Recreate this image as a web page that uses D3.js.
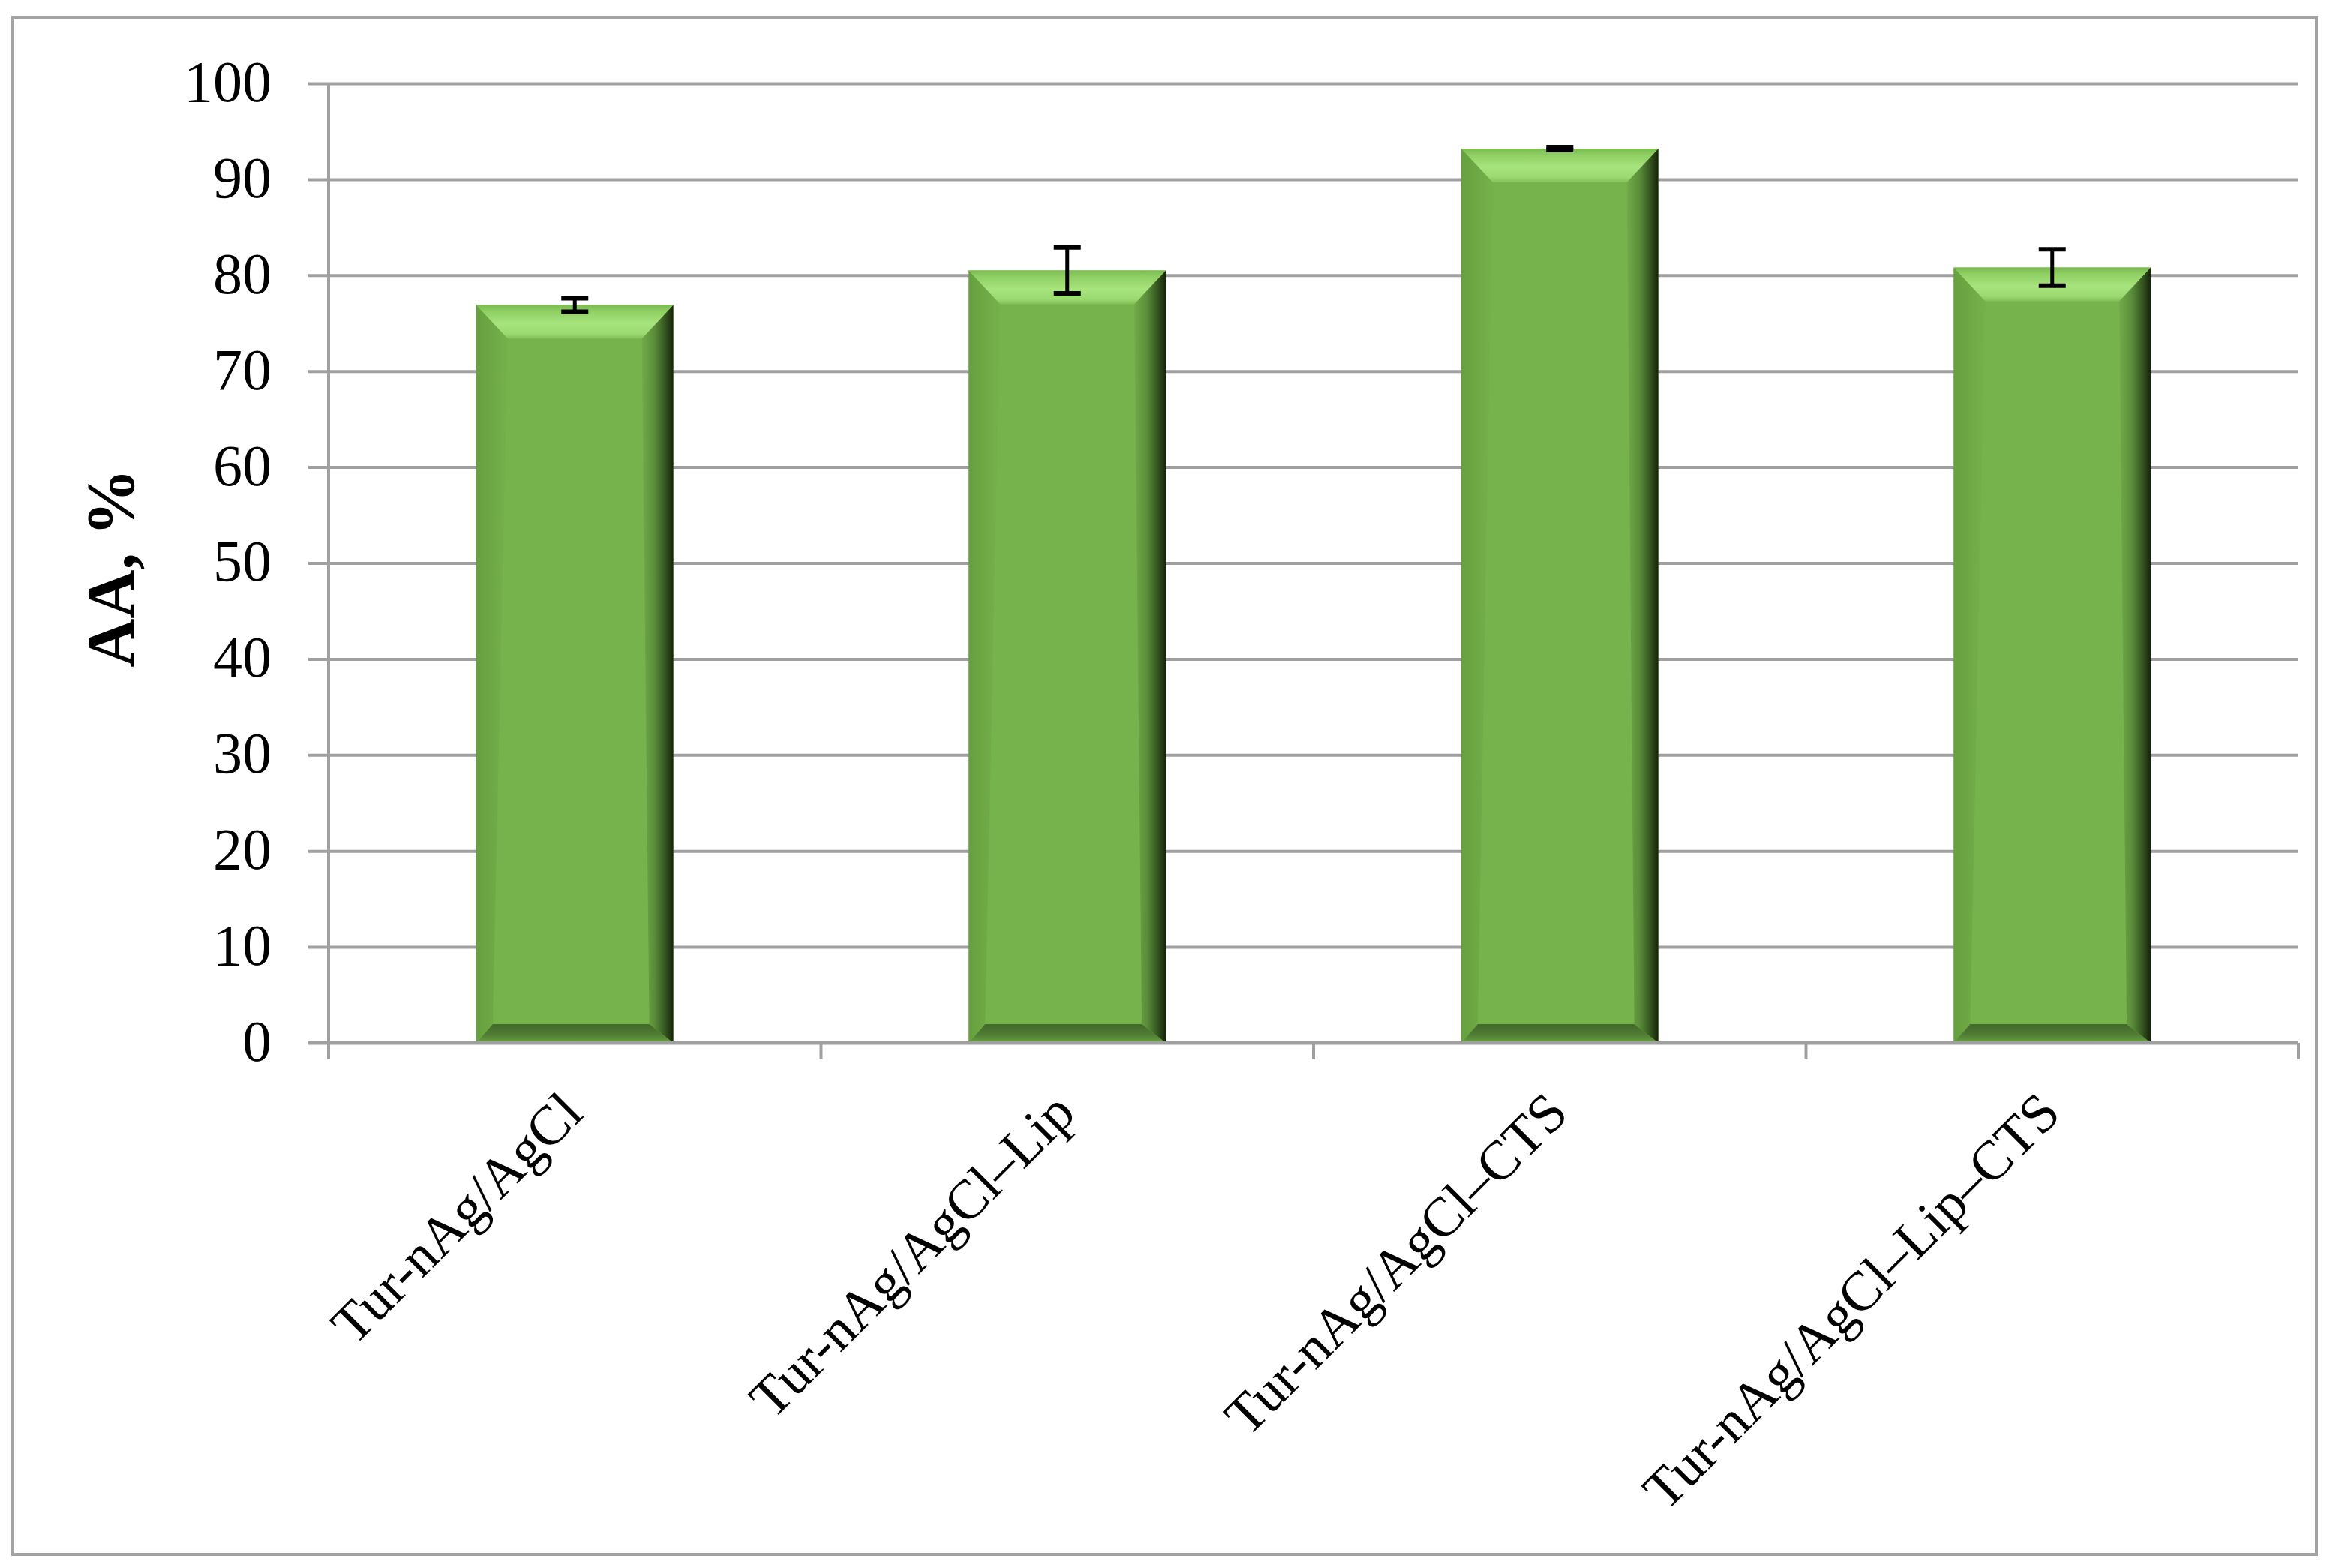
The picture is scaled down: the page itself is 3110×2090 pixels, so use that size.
<!DOCTYPE html>
<html>
<head>
<meta charset="utf-8">
<script src="https://cdn.jsdelivr.net/npm/d3@7"></script>
<style>
  html, body { margin: 0; padding: 0; background: #fff; }
  svg { display: block; }
  text { font-family: "Liberation Serif", "Times New Roman", serif; fill: #000; }
</style>
</head>
<body>
<svg id="chart" width="3110" height="2090"></svg>
<script>
// ---- data ----
const categories = ["Tur-nAg/AgCl", "Tur-nAg/AgCl\u2013Lip", "Tur-nAg/AgCl\u2013CTS", "Tur-nAg/AgCl\u2013Lip\u2013CTS"];
const values = [76.9, 80.5, 93.2, 80.8];
const errors = [0.7, 2.4, 0.15, 1.9];
const yTicks = [0, 10, 20, 30, 40, 50, 60, 70, 80, 90, 100];
const yLabel = "AA, %";

// ---- layout ----
const W = 3110, H = 2090;
const plot = { left: 438, right: 3064, top: 111, bottom: 1390 };

const svg = d3.select("#chart");
svg.append("rect").attr("x", 0).attr("y", 0).attr("width", W).attr("height", H).attr("fill", "#fff");

// outer border
svg.append("rect")
  .attr("x", 17).attr("y", 23).attr("width", 3071).attr("height", 2049)
  .attr("fill", "none").attr("stroke", "#a3a3a3").attr("stroke-width", 4);

const y = d3.scaleLinear().domain([0, 100]).range([plot.bottom, plot.top]);
const x = d3.scaleBand().domain(categories).range([plot.left, plot.right])
  .paddingInner(0.6).paddingOuter(0.3);

// gridlines + y-axis labels via d3.axisLeft
const yAxis = d3.axisLeft(y).tickValues(yTicks).tickSize(plot.right - plot.left + 27).tickPadding(22)
  .tickFormat(d3.format("d"));
const gy = svg.append("g").attr("transform", `translate(${plot.right},0)`).call(yAxis);
gy.select(".domain").remove();
gy.selectAll(".tick line").attr("stroke", "#a0a0a0").attr("stroke-width", 4);
gy.selectAll(".tick text")
  .attr("x", -(plot.right - plot.left) - 76)
  .attr("dy", "0.30em")
  .style("font-size", "78px");

// vertical axis line
svg.append("line")
  .attr("x1", plot.left).attr("x2", plot.left)
  .attr("y1", plot.top).attr("y2", plot.bottom + 22)
  .attr("stroke", "#a0a0a0").attr("stroke-width", 4);

// category boundary ticks
const step = x.step();
const boundaries = d3.range(categories.length + 1).map(i => plot.left + i * step);
svg.append("g").selectAll("line").data(boundaries).join("line")
  .attr("x1", d => d).attr("x2", d => d)
  .attr("y1", plot.bottom).attr("y2", plot.bottom + 22)
  .attr("stroke", "#a0a0a0").attr("stroke-width", 4);

// ---- gradients ----
const defs = svg.append("defs");
function lin(id, x1, y1, x2, y2, stops) {
  const g = defs.append("linearGradient").attr("id", id)
    .attr("x1", x1).attr("y1", y1).attr("x2", x2).attr("y2", y2);
  stops.forEach(s => g.append("stop").attr("offset", s[0]).attr("stop-color", s[1]));
}
lin("gTop", 0, 0, 0, 1, [[0, "#7aba50"], [0.2, "#90d064"], [0.55, "#a8e47d"], [0.85, "#9bd971"], [1, "#84c058"]]);
lin("gLeft", 0, 0, 1, 0, [[0, "#66a03f"], [1, "#75b14b"]]);
lin("gRight", 0, 0, 1, 0, [[0, "#72ab49"], [0.4, "#5a8d39"], [0.75, "#34541f"], [1, "#15230b"]]);
lin("gBottom", 0, 0, 0, 1, [[0, "#43692a"], [0.55, "#4f7c33"], [1, "#6a9f45"]]);

// ---- bars ----
const bt = 45, bb = 25, blT = 42, blB = 22, brT = 42, brB = 32;
const bars = svg.append("g").selectAll("g").data(categories).join("g");
bars.each(function(c, i) {
  const g = d3.select(this);
  const x0 = x(c), w = x.bandwidth(), yt = y(values[i]), yb = y(0), h = yb - yt;
  const poly = pts => pts.map(p => p.join(",")).join(" ");
  g.append("rect").attr("x", x0).attr("y", yt).attr("width", w).attr("height", h).attr("fill", "#77b34d");
  g.append("polygon").attr("fill", "url(#gLeft)")
    .attr("points", poly([[x0, yt], [x0 + blT, yt + bt], [x0 + blB, yb - bb], [x0, yb]]));
  g.append("polygon").attr("fill", "url(#gRight)")
    .attr("points", poly([[x0 + w, yt], [x0 + w, yb], [x0 + w - brB, yb - bb], [x0 + w - brT, yt + bt]]));
  g.append("polygon").attr("fill", "url(#gBottom)")
    .attr("points", poly([[x0, yb], [x0 + w, yb], [x0 + w - brB, yb - bb], [x0 + blB, yb - bb]]));
  g.append("polygon").attr("fill", "url(#gTop)")
    .attr("points", poly([[x0, yt], [x0 + w, yt], [x0 + w - brT, yt + bt], [x0 + blT, yt + bt]]));
});

// x-axis baseline
svg.append("line")
  .attr("x1", plot.left - 27).attr("x2", plot.right)
  .attr("y1", plot.bottom).attr("y2", plot.bottom)
  .attr("stroke", "#a0a0a0").attr("stroke-width", 4);

// ---- error bars ----
const capW = 18;
const eb = svg.append("g").attr("stroke", "#000").attr("stroke-width", 5);
categories.forEach((c, i) => {
  const cx = x(c) + x.bandwidth() / 2;
  const hi = y(values[i] + errors[i]), lo = y(values[i] - errors[i]);
  eb.append("line").attr("x1", cx).attr("x2", cx).attr("y1", hi).attr("y2", lo);
  eb.append("line").attr("x1", cx - capW).attr("x2", cx + capW).attr("y1", hi).attr("y2", hi).attr("stroke-width", 6);
  eb.append("line").attr("x1", cx - capW).attr("x2", cx + capW).attr("y1", lo).attr("y2", lo).attr("stroke-width", 6);
});

// ---- x labels ----
svg.append("g").selectAll("text").data(categories).join("text")
  .attr("transform", d => `translate(${x(d) + x.bandwidth() / 2 + 14},${plot.bottom + 97}) rotate(-45)`)
  .attr("text-anchor", "end")
  .style("font-size", "74px")
  .text(d => d);

// ---- y label ----
svg.append("text")
  .attr("transform", `translate(178,757) rotate(-90)`)
  .attr("text-anchor", "middle")
  .style("font-size", "90px").style("font-weight", "bold")
  .text(yLabel);
</script>
</body>
</html>
